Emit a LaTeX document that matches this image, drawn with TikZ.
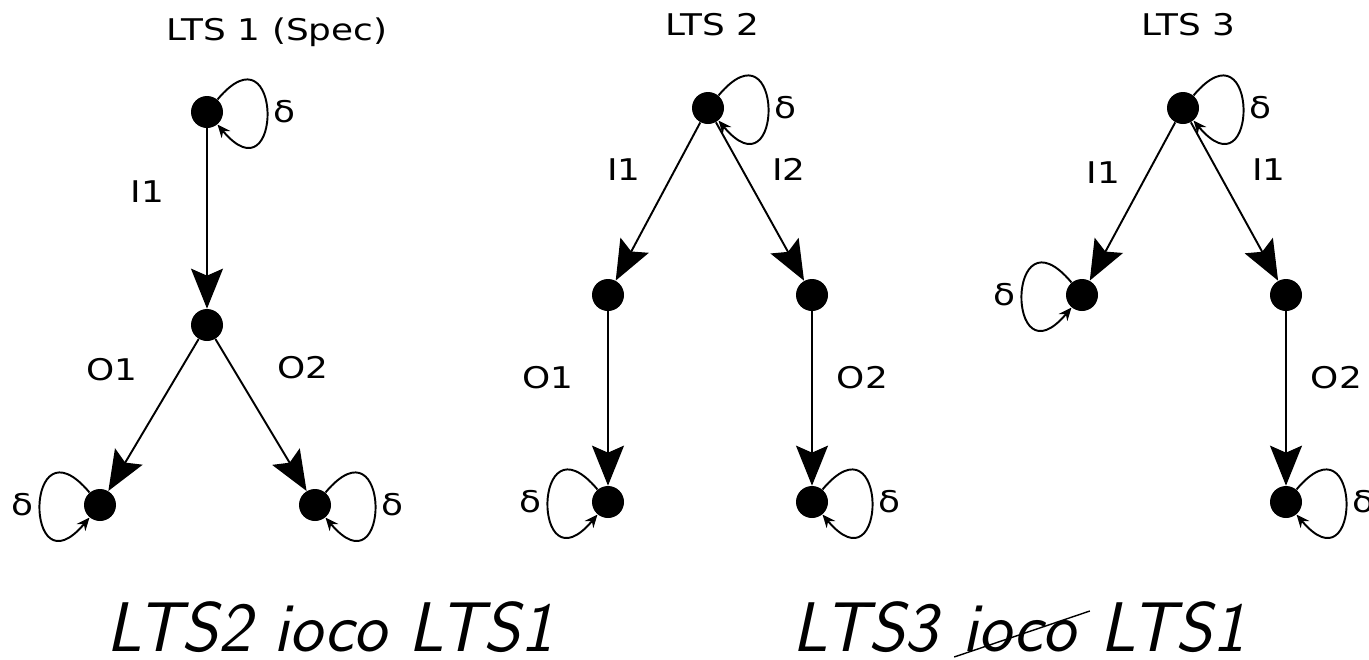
\documentclass[tikz,border=0pt]{standalone}
\usepackage{fontspec}
\newfontfamily\labelfont{DejaVu Sans}[FakeStretch=1.2]
\usepackage{tikz}
\usetikzlibrary{arrows.meta, positioning}
\tikzstyle{state} = [circle, fill=black, inner sep=0pt, minimum size=0.64cm]
\tikzstyle{arrow} = [line width=1.1pt, -{Stealth[length=0.8cm, width=0.64cm, inset=0.14cm]}]
\tikzstyle{selfloop} = [line width=1.1pt, -{Stealth[length=0.26cm, width=0.22cm]}, min distance=2.05cm]
\tikzstyle{loopright} = [selfloop, out=50, in=-50]
\tikzstyle{loopleft} = [selfloop, out=130, in=-130]
\tikzstyle{title} = [font=\labelfont\fontsize{17}{19}\selectfont]
\tikzstyle{lbl} = [font=\labelfont\fontsize{17}{19}\selectfont, inner sep=0.12cm]
\tikzstyle{verdict} = [font=\sffamily\itshape\fontsize{40}{45}\selectfont, inner sep=0pt]

\begin{document}
\begin{tikzpicture}
        \useasboundingbox (0,0) rectangle (27.38,-13.18);

        \node (a1) [state] at (4.14,-2.24) {};
        \node (b1) [state, below of=a1, node distance=4.26cm] {};
        \node (c1) [state, below of=b1, node distance=3.6cm, xshift=-2.14cm] {};
        \node (d1) [state, below of=b1, node distance=3.6cm, xshift=2.16cm] {};
        \node (t1) [title, above of=a1, node distance=1.6cm, xshift=1.4cm] {LTS 1 (Spec)};

        \node (a2) [state] at (14.16,-2.16) {};
        \node (b2) [state, below of=a2, node distance=3.74cm, xshift=-2cm] {};
        \node (c2) [state, below of=a2, node distance=3.74cm, xshift=2.08cm] {};
        \node (d2) [state, below of=b2, node distance=4.14cm] {};
        \node (e2) [state, below of=c2, node distance=4.14cm] {};
        \node (t2) [title, above of=a2, node distance=1.66cm, xshift=0.08cm] {LTS 2};

        \node (a3) [state] at (23.66,-2.16) {};
        \node (b3) [state, below of=a3, node distance=3.74cm, xshift=-2.02cm] {};
        \node (c3) [state, below of=a3, node distance=3.74cm, xshift=2.06cm] {};
        \node (d3) [state, below of=c3, node distance=4.14cm] {};
        \node (t3) [title, above of=a3, node distance=1.66cm, xshift=0.1cm] {LTS 3};

        \draw [arrow] (a1) -- node[lbl, pos=0.35, left=0.72cm] {I1} (b1);
        \draw [arrow] (b1) -- node[lbl, pos=0.2, left=0.72cm] {O1} (c1);
        \draw [arrow] (b1) -- node[lbl, pos=0.19, right=0.76cm] {O2} (d1);
        \draw [loopright] (a1) to node[lbl, right] {δ} (a1);
        \draw [loopleft] (c1) to node[lbl, left] {δ} (c1);
        \draw [loopright] (d1) to node[lbl, right] {δ} (d1);

        \draw [arrow] (a2) -- node[lbl, pos=0.3, left=0.55cm] {I1} (b2);
        \draw [arrow] (a2) -- node[lbl, pos=0.3, right=0.46cm] {I2} (c2);
        \draw [arrow] (b2) -- node[lbl, pos=0.38, left=0.56cm] {O1} (d2);
        \draw [arrow] (c2) -- node[lbl, pos=0.38, right=0.36cm] {O2} (e2);
        \draw [loopright] (a2) to node[lbl, right] {δ} (a2);
        \draw [loopleft] (d2) to node[lbl, left] {δ} (d2);
        \draw [loopright] (e2) to node[lbl, right] {δ} (e2);

        \draw [arrow] (a3) -- node[lbl, pos=0.32, left=0.42cm] {I1} (b3);
        \draw [arrow] (a3) -- node[lbl, pos=0.3, right=0.56cm] {I1} (c3);
        \draw [arrow] (c3) -- node[lbl, pos=0.38, right=0.36cm] {O2} (d3);
        \draw [loopright] (a3) to node[lbl, right] {δ} (a3);
        \draw [loopleft] (b3) to node[lbl, left] {δ} (b3);
        \draw [loopright] (d3) to node[lbl, right] {δ} (d3);

        \node (v2) [verdict, anchor=base] at (6.60,-13.02) {LTS2 ioco LTS1};
        \node (ioco3) [verdict, anchor=base] at (20.38,-13.02) {ioco};
        \node (lhs3) [verdict, anchor=base east] at ([xshift=-0.48cm]ioco3.base west) {LTS3};
        \node (rhs3) [verdict, anchor=base west] at ([xshift=0.48cm]ioco3.base east) {LTS1};
        \draw [line width=0.8pt] ([shift={(-0.16,-0.12)}]ioco3.base west) -- ([shift={(0.28,0.8)}]ioco3.base east);

\end{tikzpicture}
\end{document}
